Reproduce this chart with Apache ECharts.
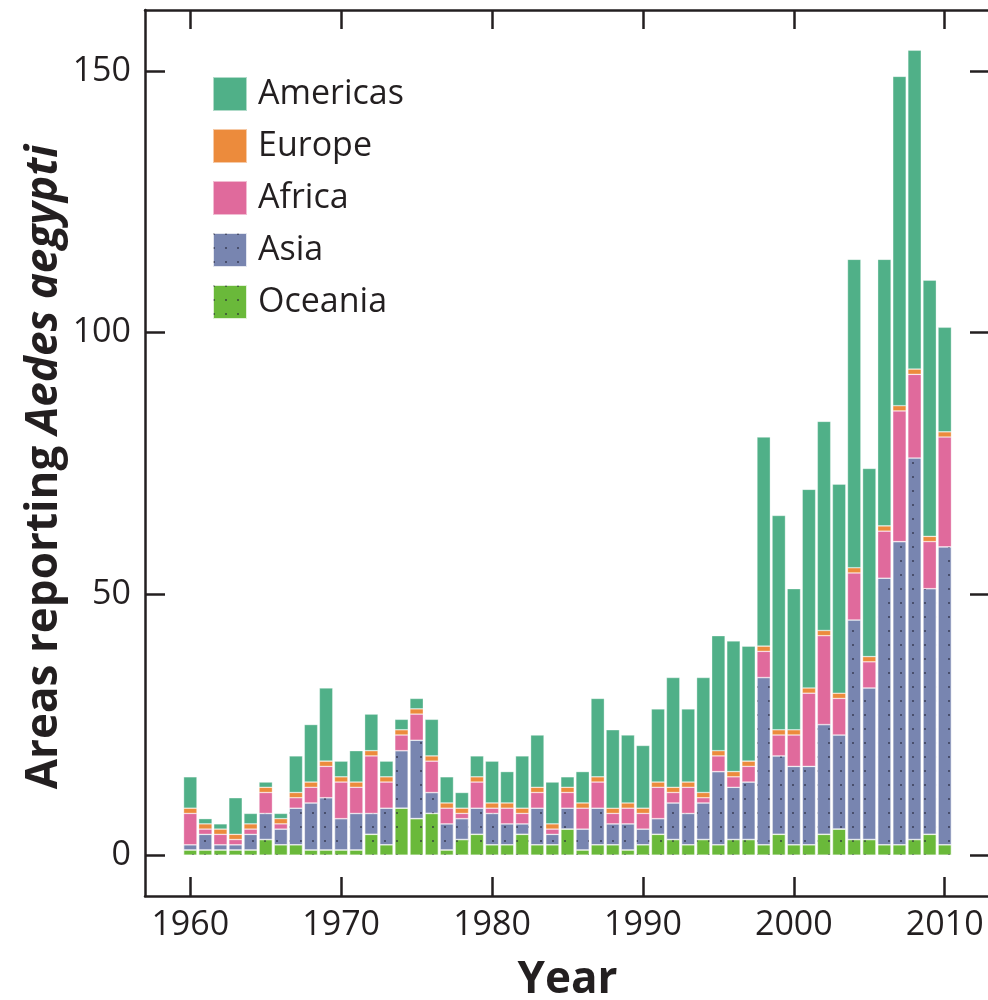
<!DOCTYPE html>
<html>
<head>
<meta charset="utf-8">
<script src="https://cdn.jsdelivr.net/npm/echarts@6/dist/echarts.min.js"></script>
<style>
html,body{margin:0;padding:0;background:#fff;}
#chart{width:988px;height:1000px;}
</style>
</head>
<body>
<div id="chart"></div>
<script>
const years = [1960,1961,1962,1963,1964,1965,1966,1967,1968,1969,1970,1971,1972,1973,1974,1975,1976,1977,1978,1979,1980,1981,1982,1983,1984,1985,1986,1987,1988,1989,1990,1991,1992,1993,1994,1995,1996,1997,1998,1999,2000,2001,2002,2003,2004,2005,2006,2007,2008,2009,2010];
const oceania  = [1,1,1,1,1,3,2,2,1,1,1,1,4,2,9,7,8,1,3,4,2,2,4,2,2,5,1,2,2,1,2,4,3,2,3,2,3,3,2,4,2,2,4,5,3,3,2,2,3,4,2];
const asia     = [1,3,1,1,3,5,3,7,9,10,6,7,4,7,11,15,4,5,4,5,6,4,2,7,2,4,4,7,4,5,3,3,7,6,7,14,10,11,32,15,15,15,21,18,42,29,51,58,73,47,57];
const africa   = [6,1,2,1,1,4,1,2,3,6,7,5,11,5,3,5,6,3,1,5,1,3,2,3,1,3,4,5,2,3,3,6,2,5,1,3,2,3,5,4,6,14,17,7,9,5,9,25,16,9,21];
const europe   = [1,1,1,1,1,1,1,1,1,1,1,1,1,1,1,1,1,1,1,1,1,1,1,1,1,1,1,1,1,1,1,1,1,1,1,1,1,1,1,1,1,1,1,1,1,1,1,1,1,1,1];
const americas = [6,1,1,7,2,1,1,7,11,14,3,6,7,3,2,2,7,5,3,4,8,6,10,10,8,2,6,15,15,13,12,14,21,14,22,22,25,22,40,41,27,38,40,40,59,36,51,63,61,49,20];
const xTicks = [1960,1970,1980,1990,2000,2010];
const yTicks = [0,50,100,150];
const seriesNames = ['Americas','Europe','Africa','Asia','Oceania'];
const colors = {Americas:'#50b088', Europe:'#ec8b3c', Africa:'#e06a9c', Asia:'#7885b0', Oceania:'#6ab93a'};

const INK = '#231f20';
const FONT = 'Open Sans';

// axis frame geometry
const X_MIN = 1957, X_MAX = 2013, Y_MIN = -7.8, Y_MAX = 161.7;
const G_LEFT = 145, G_TOP = 10, G_W = 845, G_H = 886;
const pxPerYear = G_W / (X_MAX - X_MIN);
// bar grid spans exactly the category band of the years
const barLeft = G_LEFT + (years[0] - 0.5 - X_MIN) * pxPerYear;
const barWidthTotal = years.length * pxPerYear;

const stackData = [
  ['Oceania', oceania],
  ['Asia', asia],
  ['Africa', africa],
  ['Europe', europe],
  ['Americas', americas]
];

const dotDecal = {
  symbol:'rect', symbolSize:1, color:'rgba(35,35,55,0.55)',
  dashArrayX:[1.5, 10], dashArrayY:[1.5, 12], rotation:0
};

const chart = echarts.init(document.getElementById('chart'), null, {renderer:'canvas'});

const axisLine = {show:true, onZero:false, lineStyle:{color:INK, width:2.5}};
const tickLine = {color:INK, width:2.5};

chart.setOption({
  backgroundColor:'#ffffff',
  animation:false,
  grid:[
    {left:G_LEFT, top:G_TOP, width:G_W, height:G_H, containLabel:false, outerBoundsMode:'none'},
    {left:barLeft, top:G_TOP, width:barWidthTotal, height:G_H, containLabel:false, outerBoundsMode:'none'}
  ],
  legend:{
    orient:'vertical', left:207, top:71,
    data:seriesNames,
    icon:'rect', itemWidth:34, itemHeight:34, itemGap:16,
    textStyle:{fontFamily:FONT, fontSize:34, color:INK, padding:[0,0,0,6]},
    selectedMode:false
  },
  xAxis:[
    {type:'value', gridIndex:0, min:X_MIN, max:X_MAX, position:'bottom',
     axisLine:axisLine,
     axisTick:{show:true, inside:true, length:19, customValues:xTicks, lineStyle:tickLine},
     axisLabel:{show:true, customValues:xTicks, margin:12, fontFamily:FONT, fontSize:34, color:INK,
                formatter:(v)=>String(v)},
     splitLine:{show:false},
     name:'Year', nameLocation:'middle', nameGap:62,
     nameTextStyle:{fontFamily:FONT, fontSize:44, fontWeight:'bold', color:INK}
    },
    {type:'value', gridIndex:0, min:X_MIN, max:X_MAX, position:'top',
     axisLine:axisLine,
     axisTick:{show:true, inside:true, length:19, customValues:xTicks, lineStyle:tickLine},
     axisLabel:{show:false},
     splitLine:{show:false}
    },
    {type:'category', gridIndex:1, data:years, boundaryGap:true, show:false}
  ],
  yAxis:[
    {type:'value', gridIndex:0, min:Y_MIN, max:Y_MAX, position:'left',
     axisLine:axisLine,
     axisTick:{show:true, inside:true, length:20, customValues:yTicks, lineStyle:tickLine},
     axisLabel:{show:true, customValues:yTicks, margin:14, fontFamily:FONT, fontSize:34, color:INK},
     splitLine:{show:false}
    },
    {type:'value', gridIndex:0, min:Y_MIN, max:Y_MAX, position:'right',
     axisLine:axisLine,
     axisTick:{show:true, inside:true, length:20, customValues:yTicks, lineStyle:tickLine},
     axisLabel:{show:false},
     splitLine:{show:false}
    },
    {type:'value', gridIndex:1, min:Y_MIN, max:Y_MAX, show:false}
  ],
  graphic:[{
    type:'text', x:44, y:467, rotation:Math.PI/2,
    style:{
      text:'{a|Areas reporting }{b|Aedes aegypti}',
      align:'center', verticalAlign:'middle',
      fill:INK,
      rich:{
        a:{fontFamily:FONT, fontSize:44, fontWeight:'bold', fill:INK, color:INK},
        b:{fontFamily:FONT, fontSize:44, fontWeight:'bold', fontStyle:'italic', fill:INK, color:INK}
      }
    }
  }],
  series: stackData.map(([name, arr]) => {
    const itemStyle = {
      color:colors[name],
      borderColor:'rgba(255,255,255,0.55)', borderWidth:0.6
    };
    if (name === 'Asia' || name === 'Oceania') itemStyle.decal = dotDecal;
    return {
      name: name,
      type:'bar',
      stack:'total',
      xAxisIndex:2, yAxisIndex:2,
      barWidth:13.4,
      itemStyle:itemStyle,
      emphasis:{disabled:true},
      data:arr
    };
  })
});
</script>
</body>
</html>
